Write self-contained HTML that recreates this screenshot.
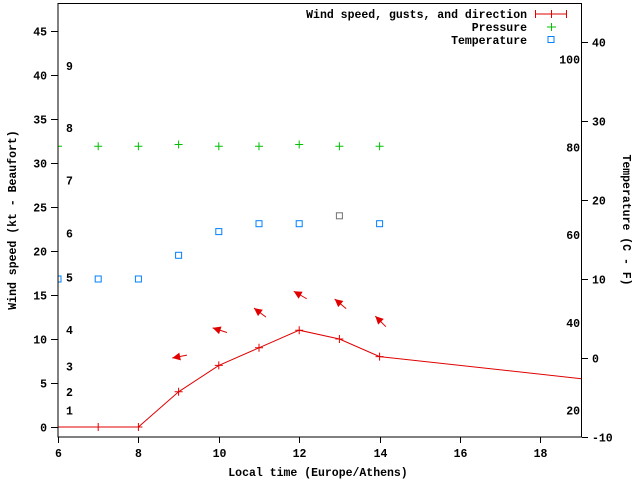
<!DOCTYPE html>
<html><head><meta charset="utf-8"><style>
body{margin:0;background:#fff}
svg{display:block;font-family:"Liberation Mono",monospace;font-weight:bold;font-size:11.5px}
</style></head><body>
<svg id="c" width="640" height="480" xmlns="http://www.w3.org/2000/svg">
<rect x="0" y="0" width="640" height="480" fill="#fff"/>
<g id="grid"></g>
<g id="marks"></g>
<rect x="58" y="3.5" width="523.5" height="433.5" fill="none" stroke="#000" stroke-width="1"/>
<text x="16" y="220" transform="rotate(-90 16 220)" text-anchor="middle">Wind speed (kt - Beaufort)</text>
<text x="623" y="220" transform="rotate(90 623 220)" text-anchor="middle">Temperature (C - F)</text>
<text x="318" y="476" text-anchor="middle">Local time (Europe/Athens)</text>
<g>
<text x="527" y="18" text-anchor="end">Wind speed, gusts, and direction</text>
<g stroke="#e00000"><line x1="535" y1="14" x2="567" y2="14"/><line x1="535.5" y1="10" x2="535.5" y2="18"/><line x1="566.5" y1="10" x2="566.5" y2="18"/><line x1="551.5" y1="10" x2="551.5" y2="18"/></g>
<text x="527" y="31" text-anchor="end">Pressure</text>
<g stroke="#00c000"><line x1="547" y1="27" x2="556" y2="27"/><line x1="551.5" y1="23" x2="551.5" y2="31"/></g>
<text x="527" y="44" text-anchor="end">Temperature</text>
<rect x="548" y="36.5" width="6" height="6" fill="none" stroke="#0080ff"/>
</g>
</svg>
<script>
const hours=[6,7,8,9,10,11,12,13,14,20];
const wind=[0,0,0,4,7,9,11,10,8,5];
const arrowHours=[9,10,11,12,13,14];
const arrowWind=[4,7,9,11,10,8];
const arrowDir=[191,162,143,150,140,135];
const pHours=[6,7,8,9,10,11,12,13,14];
const pressure=[31.9,31.9,31.9,32.1,31.9,31.9,32.1,31.9,31.9];
const tHours=[6,7,8,9,10,11,12,13,14];
const temp=[10,10,10,13,16,17,17,18,17];
const xTicks=[6,8,10,12,14,16,18];
const yTicks=[0,5,10,15,20,25,30,35,40,45];
const y2Ticks=[-10,0,10,20,30,40];
const fLabels=["100","80","60","40","20"];
const fVals=[100,80,60,40,20];
const bftLabels=["1","2","3","4","5","6","7","8","9"];
const bftVals=[1.9,4,6.9,11,17,22,28,34,41];

const X=h=>58+(h-6)*40.2;
const Y=v=>427-v*8.8;
const Y2=t=>358-t*7.9;
const NS="http://www.w3.org/2000/svg";
const g=document.getElementById('grid'), m=document.getElementById('marks');
function el(tag,attrs,parent){const e=document.createElementNS(NS,tag);for(const k in attrs)e.setAttribute(k,attrs[k]);parent.appendChild(e);return e;}

xTicks.forEach(h=>{
 const x=Math.round(X(h))+0.5;
 const t=el('line',{x1:x,y1:437,x2:x,y2:443,stroke:'#000'},g);
 
 
 const l=el('text',{x:x,y:457,'text-anchor':'middle'},g);l.textContent=h;
 
 
});
yTicks.forEach(v=>{
 const y=Math.round(Y(v))+0.5;
 const t=el('line',{x1:51,y1:y,x2:58,y2:y,stroke:'#000'},g);
 
 
 const l=el('text',{x:47,y:y+4,'text-anchor':'end'},g);l.textContent=v;
 
 
});
y2Ticks.forEach(v=>{
 const y=Math.round(Y2(v))+0.5;
 const t=el('line',{x1:582,y1:y,x2:588,y2:y,stroke:'#000'},g);
 
 
 const l=el('text',{x:592,y:y+4},g);l.textContent=v;
 
 
});
fVals.forEach((v,i)=>{
 const c=(v-32)*5/9;
 const l=el('text',{x:580,y:Y2(c)+4,'text-anchor':'end'},g);l.textContent=fLabels[i];
 
 
});
bftVals.forEach((v,i)=>{
 const l=el('text',{x:66,y:Y(v)+4},g);l.textContent=bftLabels[i];
 
 
});

// clip
const defs=el('defs',{},m);
const cp=el('clipPath',{id:'clip'},defs);
el('rect',{x:58,y:3.5,width:523.5,height:433.5},cp);
const cg=el('g',{'clip-path':'url(#clip)'},m);

const pts=hours.map((h,i)=>X(h)+','+Y(wind[i])).join(' ');
const line=el('polyline',{points:pts,fill:'none',stroke:'#e00000','stroke-width':1},cg);


hours.forEach((h,i)=>{
 const x=X(h),y=Y(wind[i]);
 const p=el('path',{d:`M${x-4},${y}H${x+4}M${x},${y-4}V${y+4}`,stroke:'#e00000'},cg);
 
 
});
pHours.forEach((h,i)=>{
 const x=X(h),y=Y(pressure[i]);
 const p=el('path',{d:`M${x-4},${y}H${x+4}M${x},${y-4}V${y+4}`,stroke:'#00c000'},cg);
 
 
});
tHours.forEach((h,i)=>{
 const x=X(h),y=Y2(temp[i]);
 const r=el('rect',{x:x-3,y:y-3,width:6,height:6,fill:'none',stroke:(h===13?'#707070':'#0080ff')},cg);
 
 
});
arrowHours.forEach((h,i)=>{
 const cx=X(h)+1,cy=Y(arrowWind[i]+4);
 const a=arrowDir[i]*Math.PI/180, dx=Math.cos(a), dy=-Math.sin(a), L=15;
 const hx=cx+dx*L/2, hy=cy+dy*L/2, tx=cx-dx*L/2, ty=cy-dy*L/2;
 const g2=el('g',{},cg);
 
 
 el('line',{x1:tx,y1:ty,x2:hx,y2:hy,stroke:'#e00000'},g2);
 const px=-dy,py=dx;
 const bx=hx-dx*8, by=hy-dy*8;
 el('polygon',{points:`${hx},${hy} ${bx+px*4},${by+py*4} ${bx-px*4},${by-py*4}`,fill:'#e00000'},g2);
});
</script>
</body></html>
